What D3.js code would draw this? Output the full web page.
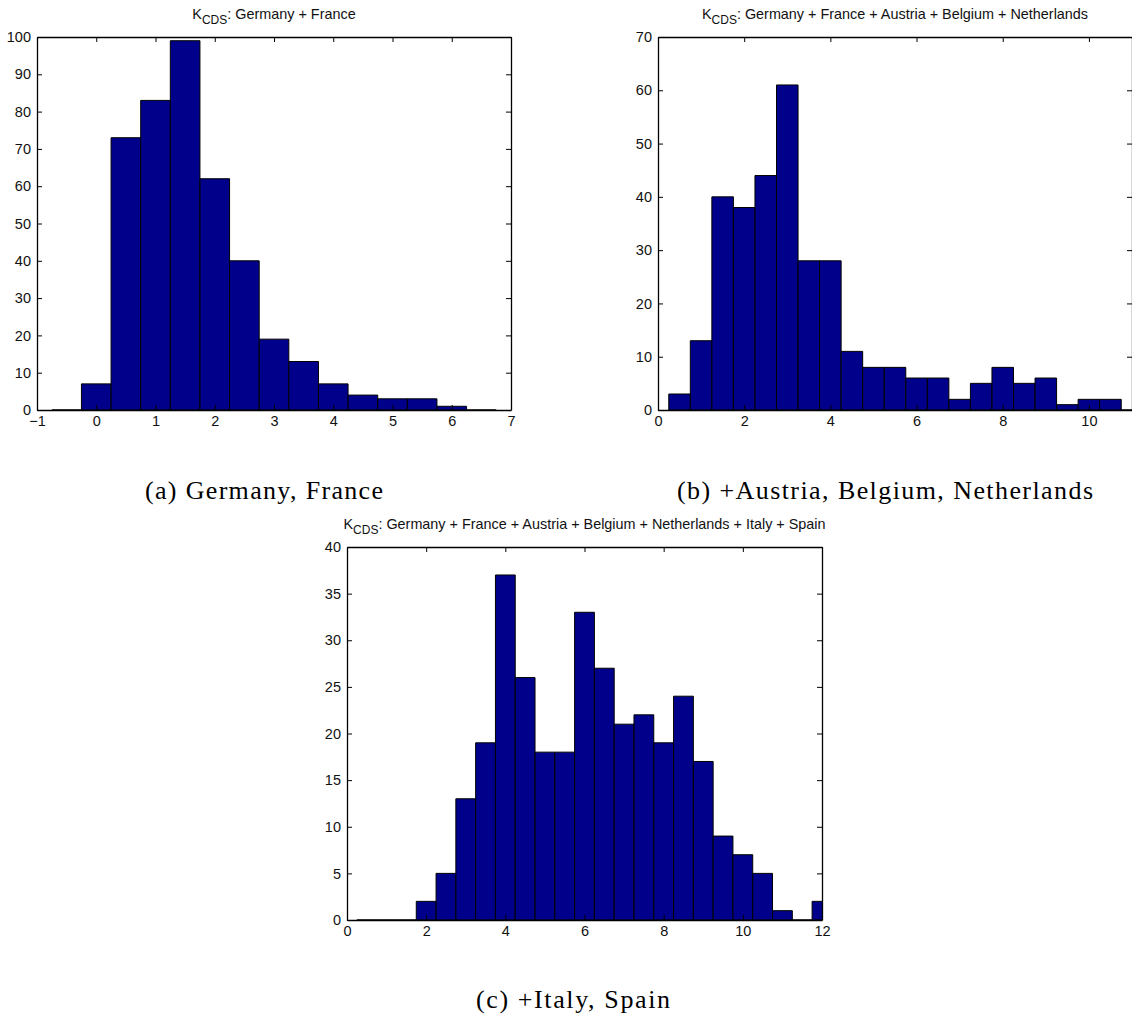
<!DOCTYPE html>
<html><head><meta charset="utf-8">
<script src="https://cdn.jsdelivr.net/npm/d3@7"></script>
<style>
html,body{margin:0;padding:0;background:#fff;}
svg{display:block;}
.tick text{font-family:"Liberation Sans",Arial,sans-serif;}
</style></head>
<body>
<svg id="chart" width="1132" height="1019"></svg>
<script>
// ---------- data ----------
const centersA = [-0.5,0,0.5,1,1.5,2,2.5,3,3.5,4,4.5,5,5.5,6,6.5];
const countsA  = [0,7,73,83,99,62,40,19,13,7,4,3,3,1,0];

const centersB = [0.5,1,1.5,2,2.5,3,3.5,4,4.5,5,5.5,6,6.5,7,7.5,8,8.5,9,9.5,10,10.5,11];
const countsB  = [3,13,40,38,44,61,28,28,11,8,8,6,6,2,5,8,5,6,1,2,2,0];

const centersC = [0.5,1,1.5,2,2.5,3,3.5,4,4.5,5,5.5,6,6.5,7,7.5,8,8.5,9,9.5,10,10.5,11,11.5,12];
const countsC  = [0,0,0,2,5,13,19,37,26,18,18,33,27,21,22,19,24,17,9,7,5,1,0,2];

const xTicksA = [-1,0,1,2,3,4,5,6,7];
const yTicksA = [0,10,20,30,40,50,60,70,80,90,100];
const xTicksB = [0,2,4,6,8,10];
const yTicksB = [0,10,20,30,40,50,60,70];
const xTicksC = [0,2,4,6,8,10,12];
const yTicksC = [0,5,10,15,20,25,30,35,40];

const titleMain = "K";
const titleSub = "CDS";
const titlesRest = [
  ": Germany + France",
  ": Germany + France + Austria + Belgium + Netherlands",
  ": Germany + France + Austria + Belgium + Netherlands + Italy + Spain"
];
const captions = ["(a) Germany, France", "(b) +Austria, Belgium, Netherlands", "(c) +Italy, Spain"];

// ---------- layout ----------
const svg = d3.select("#chart");
const binW = 0.5;
const barFill = "#00008a";

const panels = [
  {centers:centersA, counts:countsA, xd:[-1,7], yd:[0,100], xt:xTicksA, yt:yTicksA,
   x0:37, x1:511, y0:37, y1:410, title:titlesRest[0], cap:captions[0], capX:264, capY:499, capW:238, id:"a"},
  {centers:centersB, counts:countsB, xd:[0,11], yd:[0,70], xt:xTicksB, yt:yTicksB,
   x0:658, x1:1132, y0:37, y1:410, title:titlesRest[1], cap:captions[1], capX:885, capY:499, capW:416, id:"b"},
  {centers:centersC, counts:countsC, xd:[0,12], yd:[0,40], xt:xTicksC, yt:yTicksC,
   x0:347, x1:822, y0:547, y1:920, title:titlesRest[2], cap:captions[2], capX:573, capY:1008, capW:194, id:"c"}
];

const fmt = d => d < 0 ? "\u2212" + Math.abs(d) : String(d);

panels.forEach(p => {
  const x = d3.scaleLinear().domain(p.xd).range([p.x0, p.x1]);
  const y = d3.scaleLinear().domain(p.yd).range([p.y1, p.y0]);
  const g = svg.append("g");

  g.append("clipPath").attr("id", "clip-" + p.id)
    .append("rect").attr("x", p.x0).attr("y", p.y0 - 2)
    .attr("width", p.x1 - p.x0).attr("height", p.y1 - p.y0 + 4);

  // bars
  g.append("g").attr("clip-path", "url(#clip-" + p.id + ")")
    .selectAll("path").data(p.centers.map((c, i) => ({c, v: p.counts[i]})))
    .join("path")
    .attr("d", d => {
      const a = x(d.c - binW / 2), b = x(d.c + binW / 2), t = y(d.v), z = y(0);
      return `M${a},${z}V${t}H${b}V${z}Z`;
    })
    .attr("fill", barFill)
    .attr("stroke", "#000")
    .attr("stroke-width", 1);

  const tl = 5;
  g.append("g").attr("transform", `translate(0,${p.y1})`)
    .call(d3.axisBottom(x).tickValues(p.xt).tickFormat(fmt).tickSizeInner(-tl).tickSizeOuter(0).tickPadding(6));
  g.append("g").attr("transform", `translate(0,${p.y0})`)
    .call(d3.axisTop(x).tickValues(p.xt).tickFormat("").tickSizeInner(-tl).tickSizeOuter(0));
  g.append("g").attr("transform", `translate(${p.x0},0)`)
    .call(d3.axisLeft(y).tickValues(p.yt).tickFormat(fmt).tickSizeInner(-tl).tickSizeOuter(0).tickPadding(6));
  g.append("g").attr("transform", `translate(${p.x1},0)`)
    .call(d3.axisRight(y).tickValues(p.yt).tickFormat("").tickSizeInner(-tl).tickSizeOuter(0));

  g.selectAll(".domain").attr("stroke", "#000").attr("stroke-width", 1.3);
  g.selectAll(".tick line").attr("stroke", "#000").attr("stroke-width", 1);
  g.selectAll(".tick text").attr("font-size", 14.5).attr("fill", "#111");

  // title
  const t = g.append("text")
    .attr("x", (p.x0 + p.x1) / 2)
    .attr("y", p.y0 - 18)
    .attr("text-anchor", "middle")
    .attr("font-family", "Liberation Sans, Arial, sans-serif")
    .attr("font-size", 14.4)
    .attr("fill", "#111");
  t.append("tspan").text(titleMain);
  t.append("tspan").attr("dy", 5).attr("font-size", 12).text(titleSub);
  t.append("tspan").attr("dy", -5).text(p.title);

  // caption
  g.append("text")
    .attr("x", p.capX).attr("y", p.capY)
    .attr("text-anchor", "middle")
    .attr("font-family", "Liberation Serif, 'DejaVu Serif', serif")
    .attr("font-size", 26)
    .attr("textLength", p.capW)
    .attr("lengthAdjust", "spacing")
    .attr("fill", "#000")
    .text(p.cap);
});
</script>
</body></html>
